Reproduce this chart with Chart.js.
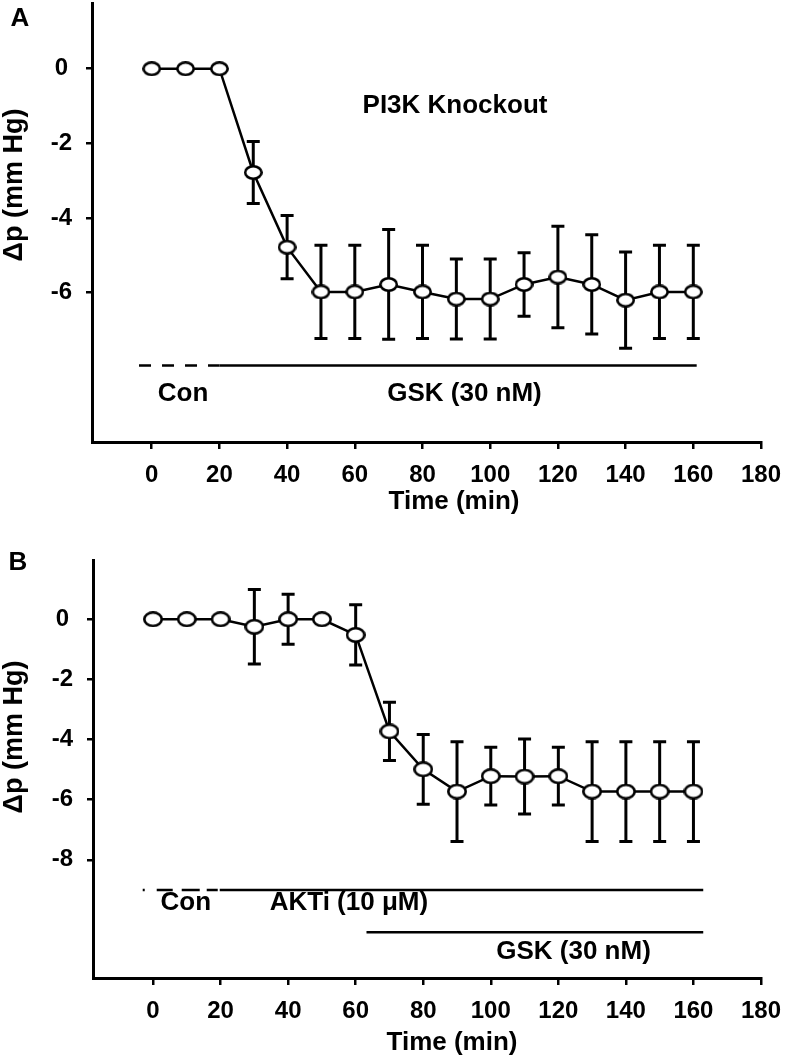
<!DOCTYPE html>
<html><head><meta charset="utf-8">
<script src="https://cdn.jsdelivr.net/npm/chart.js@4.4.1/dist/chart.umd.min.js"></script>
<style>
html,body{margin:0;padding:0;background:#fff;}
#wrap{position:relative;width:792px;height:1063px;overflow:hidden;background:#fff;}
canvas{position:absolute;left:0;}
#cA{top:0;} #cB{top:530px;}
</style></head><body>
<div id="wrap"><canvas id="cA" width="792" height="530"></canvas><canvas id="cB" width="792" height="533"></canvas></div>
<script>
// ---- data ----
const timeMin = [0,10,20,30,40,50,60,70,80,90,100,110,120,130,140,150,160];
const meanA = [0,0,0,-2.78,-4.78,-5.98,-5.98,-5.78,-5.98,-6.17,-6.17,-5.78,-5.58,-5.78,-6.2,-5.98,-5.98];
const semA  = [0,0,0,0.83,0.85,1.25,1.25,1.47,1.25,1.07,1.07,0.85,1.36,1.33,1.29,1.25,1.25];
const meanB = [0,0,0,-0.25,0,0,-0.52,-3.73,-4.99,-5.73,-5.22,-5.23,-5.22,-5.73,-5.73,-5.73,-5.73];
const semB  = [0,0,0,1.24,0.83,0,1.0,0.97,1.16,1.66,0.96,1.25,0.96,1.66,1.66,1.66,1.66];
const xTickValues = [0,20,40,60,80,100,120,140,160,180];
const yTicksA = [0,-2,-4,-6];
const yTicksB = [0,-2,-4,-6,-8];
const xTitle = 'Time (min)';
const yTitle = 'Δp (mm Hg)';

const FAM = '"Liberation Sans", Arial, Helvetica, sans-serif';

function ellipseMarker(w,h,lw){
  const c=document.createElement('canvas'); c.width=w; c.height=h;
  const g=c.getContext('2d');
  g.beginPath(); g.ellipse(w/2,h/2,w/2-lw/2,h/2-lw/2,0,0,Math.PI*2);
  g.fillStyle='#fff'; g.fill(); g.lineWidth=lw; g.strokeStyle='#000'; g.stroke();
  return c;
}

function makeOverlay(cfg){
  return {
    id:'overlay',
    beforeDatasetsDraw(chart){
      const {ctx, scales:{x,y}} = chart;
      ctx.save(); ctx.strokeStyle='#000'; ctx.lineWidth=3; ctx.lineCap='butt';
      cfg.mean.forEach((m,i)=>{
        const e=cfg.sem[i]; if(!e) return;
        const px=x.getPixelForValue(cfg.time[i]);
        const t=y.getPixelForValue(m+e), b=y.getPixelForValue(m-e);
        ctx.beginPath();
        ctx.moveTo(px,t); ctx.lineTo(px,b);
        ctx.moveTo(px-6.5,t); ctx.lineTo(px+6.5,t);
        ctx.moveTo(px-6.5,b); ctx.lineTo(px+6.5,b);
        ctx.stroke();
      });
      ctx.restore();
    },
    afterDraw(chart){
      const {ctx, scales:{x,y}} = chart;
      ctx.save(); ctx.strokeStyle='#000'; ctx.lineWidth=2.5;
      cfg.lines.forEach(l=>{
        ctx.setLineDash(l.dash||[]);
        const py=y.getPixelForValue(l.y);
        ctx.beginPath(); ctx.moveTo(x.getPixelForValue(l.x0),py); ctx.lineTo(x.getPixelForValue(l.x1),py); ctx.stroke();
      });
      ctx.setLineDash([]);
      ctx.fillStyle='#000'; ctx.textAlign='center'; ctx.textBaseline='middle';
      ctx.font='bold 26px '+FAM;
      cfg.texts.forEach(t=>{ ctx.fillText(t.text, x.getPixelForValue(t.x), y.getPixelForValue(t.y)); });
      ctx.fillText(cfg.letter[0], cfg.letter[1], cfg.letter[2]);
      ctx.fillText(xTitle, cfg.xTitlePos[0], cfg.xTitlePos[1]);
      ctx.font='bold 27px '+FAM;
      ctx.save(); ctx.translate(cfg.yTitlePos[0], cfg.yTitlePos[1]); ctx.rotate(-Math.PI/2);
      ctx.fillText(yTitle,0,0); ctx.restore();
      ctx.restore();
    }
  };
}

function makeChart(id, o){
  const tickFont={family:FAM,size:24,weight:'bold'};
  return new Chart(document.getElementById(id),{
    type:'line',
    data:{datasets:[{
      data:o.time.map((t,i)=>({x:t,y:o.mean[i]})),
      borderColor:'#000', borderWidth:2.5, tension:0,
      pointStyle:o.marker, pointRadius:9, clip:false
    }]},
    options:{
      responsive:false, animation:false, devicePixelRatio:1, events:[],
      layout:{autoPadding:false, padding:{top:o.padTop,left:0,right:31,bottom:0}},
      plugins:{legend:{display:false},tooltip:{enabled:false}},
      scales:{
        x:{type:'linear',min:o.xmin,max:180,
          afterBuildTicks:s=>{s.ticks=xTickValues.map(v=>({value:v}));},
          afterFit:s=>{s.height=o.xh; s.paddingLeft=0; s.paddingRight=0;},
          grid:{drawOnChartArea:false,drawTicks:true,tickLength:7,color:'#000',lineWidth:2.5},
          border:{display:true,color:'#000',width:3},
          ticks:{color:'#000',font:tickFont,padding:12,maxRotation:0,autoSkip:false}
        },
        y:{type:'linear',min:o.ymin,max:o.ymax,
          afterBuildTicks:s=>{s.ticks=o.yTicks.map(v=>({value:v}));},
          afterFit:s=>{s.width=o.yw; s.paddingTop=0; s.paddingBottom=0;},
          grid:{drawOnChartArea:false,drawTicks:true,tickLength:6,color:'#000',lineWidth:2.5},
          border:{display:true,color:'#000',width:3},
          ticks:{color:'#000',font:tickFont,padding:14,crossAlign:'center',autoSkip:false}
        }
      }
    },
    plugins:[makeOverlay(o)]
  });
}

makeChart('cA',{
  time:timeMin, mean:meanA, sem:semA, yTicks:yTicksA,
  marker:ellipseMarker(19,15,2.6),
  xmin:-17.64, ymin:-10, ymax:1.76, padTop:3, xh:88, yw:92,
  lines:[{x0:-3.75,x1:20,y:-7.95,dash:[12,11]},{x0:20,x1:161,y:-7.95}],
  texts:[{text:'PI3K Knockout',x:89.6,y:-1.0},{text:'Con',x:9.25,y:-8.72},{text:'GSK (30 nM)',x:92.4,y:-8.72}],
  letter:['A',20,19], xTitlePos:[454,502], yTitlePos:[15,185]
});
makeChart('cB',{
  time:timeMin, mean:meanB, sem:semB, yTicks:yTicksB,
  marker:ellipseMarker(20,16,2.6),
  xmin:-17.77, ymin:-11.93, ymax:1.97, padTop:30, xh:85, yw:93,
  lines:[{x0:-3.05,x1:19.75,y:-9,dash:[2,12,16,9,18,7,11,2]},{x0:19.75,x1:162.9,y:-9},{x0:63.2,x1:162.9,y:-10.41}],
  texts:[{text:'Con',x:9.7,y:-9.44},{text:'AKTi (10 μM)',x:58,y:-9.44},{text:'GSK (30 nM)',x:124.5,y:-11.06}],
  letter:['B',18,33], xTitlePos:[452,513], yTitlePos:[15,207]
});
</script>
</body></html>
